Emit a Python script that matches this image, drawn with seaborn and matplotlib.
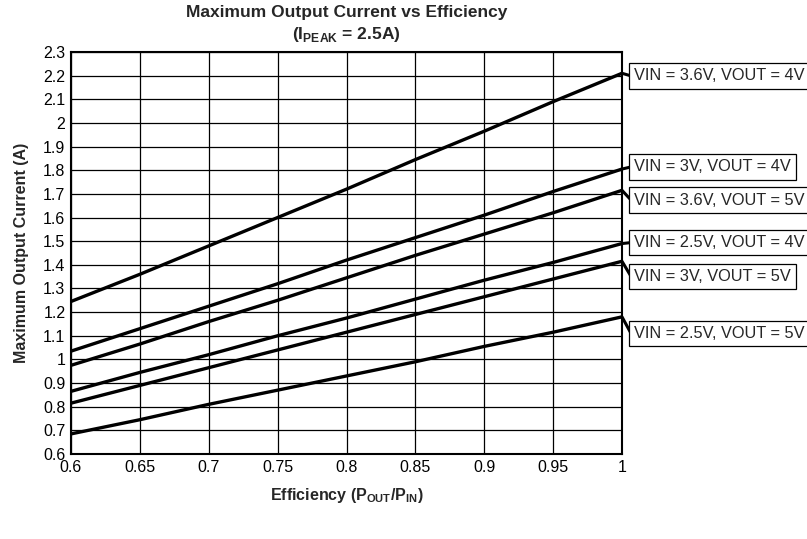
import numpy as np
import pandas as pd
import matplotlib
matplotlib.use("Agg")
import matplotlib.pyplot as plt
import seaborn as sns

efficiency = [0.6, 0.65, 0.7, 0.75, 0.8, 0.85, 0.9, 0.95, 1.0]
vin36_vout4 = [1.245, 1.36, 1.48, 1.60, 1.72, 1.845, 1.965, 2.09, 2.21]
vin3_vout4 = [1.035, 1.13, 1.225, 1.32, 1.42, 1.515, 1.61, 1.71, 1.805]
vin36_vout5 = [0.975, 1.065, 1.16, 1.25, 1.345, 1.44, 1.53, 1.62, 1.715]
vin25_vout4 = [0.865, 0.945, 1.02, 1.10, 1.175, 1.255, 1.335, 1.41, 1.49]
vin3_vout5 = [0.815, 0.89, 0.965, 1.04, 1.115, 1.19, 1.265, 1.34, 1.415]
vin25_vout5 = [0.685, 0.745, 0.81, 0.87, 0.93, 0.99, 1.055, 1.115, 1.18]

series_labels = ["VIN = 3.6V, VOUT = 4V", "VIN = 3V, VOUT = 4V", "VIN = 3.6V, VOUT = 5V",
                 "VIN = 2.5V, VOUT = 4V", "VIN = 3V, VOUT = 5V", "VIN = 2.5V, VOUT = 5V"]
series_values = [vin36_vout4, vin3_vout4, vin36_vout5, vin25_vout4, vin3_vout5, vin25_vout5]
label_y = [2.199, 1.814, 1.674, 1.494, 1.351, 1.110]  # label box centres (data units)

x_ticks = [0.6, 0.65, 0.7, 0.75, 0.8, 0.85, 0.9, 0.95, 1.0]
x_ticklabels = ["0.6", "0.65", "0.7", "0.75", "0.8", "0.85", "0.9", "0.95", "1"]
y_ticks = [0.6, 0.7, 0.8, 0.9, 1.0, 1.1, 1.2, 1.3, 1.4, 1.5, 1.6, 1.7, 1.8, 1.9, 2.0, 2.1, 2.2, 2.3]
y_ticklabels = ["0.6", "0.7", "0.8", "0.9", "1", "1.1", "1.2", "1.3", "1.4", "1.5", "1.6",
                "1.7", "1.8", "1.9", "2", "2.1", "2.2", "2.3"]

rows = []
for lab, vals in zip(series_labels, series_values):
    for x, y in zip(efficiency, vals):
        rows.append({"eff": x, "cur": y, "series": lab})
df = pd.DataFrame(rows)

sns.set_theme(style="white")
plt.rcParams["font.family"] = ["Liberation Sans", "DejaVu Sans"]
plt.rcParams["mathtext.fontset"] = "custom"
plt.rcParams["mathtext.rm"] = "Liberation Sans"
plt.rcParams["mathtext.bf"] = "Liberation Sans:bold"

W, H = 807, 539
fig = plt.figure(figsize=(W / 100, H / 100), dpi=100)
ax = fig.add_axes([71 / W, 1 - 454 / H, (622 - 71) / W, (454 - 52) / H])

sns.lineplot(data=df, x="eff", y="cur", hue="series", hue_order=series_labels,
             palette=["black"] * 6, linewidth=2.4, legend=False, ax=ax, zorder=3)

ax.set_xlim(0.6, 1.0)
ax.set_ylim(0.6, 2.3)
ax.set_xticks(x_ticks)
ax.set_xticklabels(x_ticklabels)
ax.set_yticks(y_ticks)
ax.set_yticklabels(y_ticklabels)
ax.tick_params(axis="both", length=0, labelsize=11.5, colors="black", pad=4)
ax.grid(True, color="black", linewidth=0.9)
for s in ax.spines.values():
    s.set_color("black")
    s.set_linewidth(1.5)

ax.set_xlabel(r"Efficiency (P$_{\mathbf{OUT}}$/P$_{\mathbf{IN}}$)", fontsize=11.5,
              fontweight="bold", labelpad=8)
ax.set_ylabel("Maximum Output Current (A)", fontsize=11.5, fontweight="bold", labelpad=10)

cx = (71 + 622) / 2 / W
fig.text(cx, 1 - 12 / H, "Maximum Output Current vs Efficiency", fontsize=12.5,
         fontweight="bold", ha="center", va="center")
fig.text(cx, 1 - 34 / H, r"(I$_{\mathbf{PEAK}}$ = 2.5A)", fontsize=12.5,
         fontweight="bold", ha="center", va="center")

box_x = 631 / W
for lab, vals, ly in zip(series_labels, series_values, label_y):
    # leader line from the curve end to the label box
    ax.annotate("", xy=(1.0, vals[-1]), xycoords="data",
                xytext=(box_x, ly), textcoords=("figure fraction", "data"),
                annotation_clip=False,
                arrowprops=dict(arrowstyle="-", color="black", lw=2.2,
                                shrinkA=0, shrinkB=0))
    ax.annotate(lab, xy=(box_x + 3 / W, ly), xycoords=("figure fraction", "data"),
                fontsize=11.8, va="center", ha="left", annotation_clip=False,
                bbox=dict(boxstyle="square,pad=0.32", fc="white", ec="black", lw=0.9))

fig.savefig("out.png", dpi=100)
